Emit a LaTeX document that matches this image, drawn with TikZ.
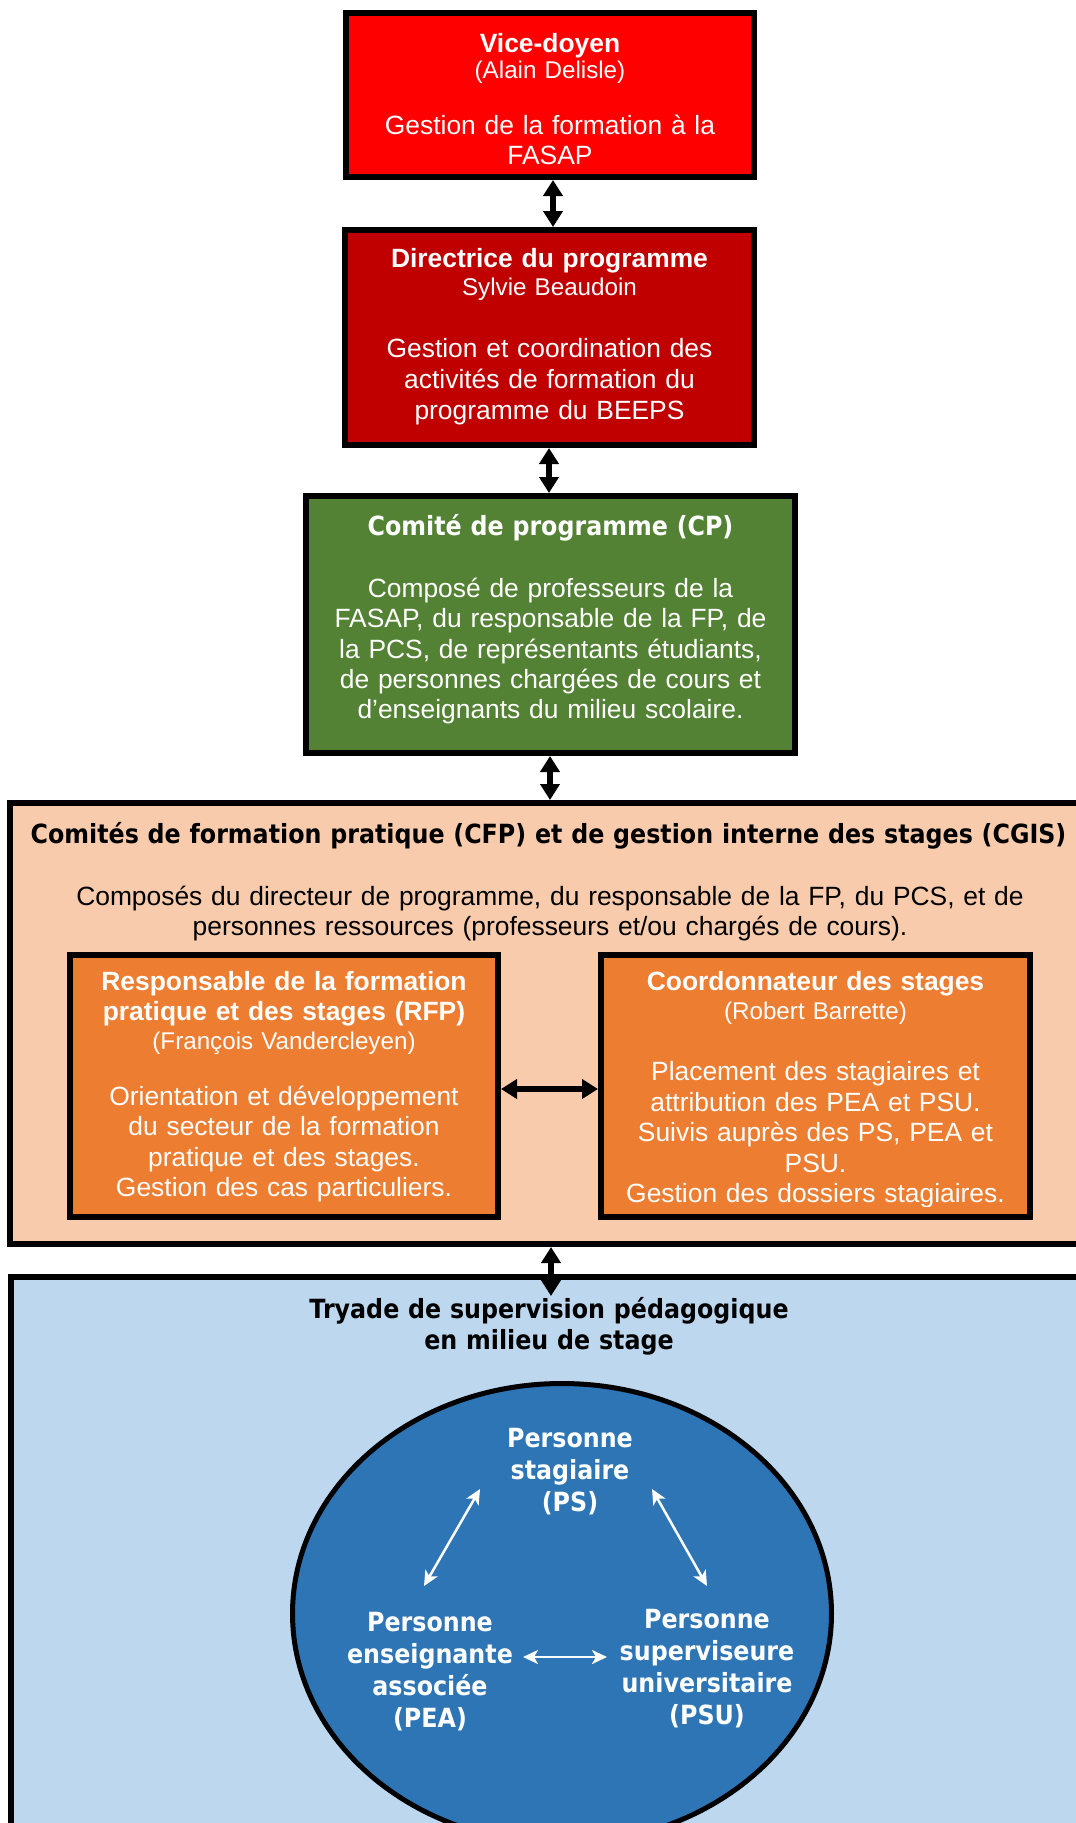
\documentclass[tikz,border=0pt]{standalone}
\usepackage{fontspec}
\setmainfont{Liberation Sans}
\newfontfamily\tah{DejaVu Sans}[FakeStretch=0.9]
\usetikzlibrary{arrows.meta,shapes.geometric}
\definecolor{vdred}{HTML}{FF0000}
\definecolor{dirred}{HTML}{C00000}
\definecolor{cpgreen}{HTML}{548235}
\definecolor{peach}{HTML}{F8CBAD}
\definecolor{orng}{HTML}{ED7D31}
\definecolor{ltblue}{HTML}{BDD7EE}
\definecolor{ellblue}{HTML}{2E75B6}
\tikzset{
  box/.style={draw=black, line width=6pt, inner sep=0pt, outer sep=0pt},
  txt/.style={anchor=base, align=center, text width=1040pt, inner sep=0pt, outer sep=0pt},
  bodytxt/.style={txt, font=\fontsize{26.4}{#1}\selectfont},
  bodytxt/.default=29.5,
  nmtxt/.style={txt, font=\fontsize{24.2}{28}\selectfont},
  ttltxt/.style={txt, font=\bfseries\fontsize{26.4}{#1}\selectfont},
  ttltxt/.default=30,
  tahtxt/.style={txt, font=\tah\bfseries\fontsize{26.4}{#1}\selectfont},
  tahtxt/.default=31,
  biarrow/.style={draw=black, line width=6pt, shorten <=3pt, shorten >=3pt, {Triangle[length=16pt,width=19pt]}-{Triangle[length=16pt,width=19pt]}},
  warrow/.style={draw=white, line width=2.5pt, {Stealth[length=15pt,width=14pt,inset=4pt]}-{Stealth[length=15pt,width=14pt,inset=4pt]}}
}
\begin{document}
\begin{tikzpicture}[x=1pt,y=-1pt]
\useasboundingbox (0,0) rectangle (1076,1823);
\clip (0,0) rectangle (1076,1823);
\fill[white] (0,0) rectangle (1076,1823);

% boxes
\node[box, fill=vdred, minimum width=408pt, minimum height=164pt] (vd) at (550,95) {};
\node[box, fill=dirred, minimum width=409pt, minimum height=215pt] (dir) at (549.5,337.5) {};
\node[box, fill=cpgreen, minimum width=489pt, minimum height=257pt] (cp) at (550.5,624.5) {};
\node[box, fill=peach, minimum width=1100pt, minimum height=441pt] (cfp) at (560,1023.5) {};
\node[box, fill=orng, minimum width=428pt, minimum height=262pt] (rfp) at (284,1086) {};
\node[box, fill=orng, minimum width=429pt, minimum height=262pt] (coord) at (815.5,1086) {};
\node[box, fill=ltblue, minimum width=1099pt, minimum height=623pt] (try) at (560.5,1588.5) {};
\node[draw=black, line width=5pt, fill=ellblue, ellipse, inner sep=0pt, outer sep=0pt, minimum width=539pt, minimum height=460pt] (ell) at (562,1613.5) {};

% Vice-doyen
\node[ttltxt, text=white] (vdT) at (550,52) {Vice-doyen};
\node[nmtxt, text=white] (vdN) at (550,78) {(Alain Delisle)};
\node[bodytxt=30.5, text=white] (vdB) at (550,134) {Gestion de la formation à la\\FASAP};

% Directrice
\node[ttltxt, text=white] (dirT) at (549.5,267.5) {Directrice du programme};
\node[nmtxt, text=white] (dirN) at (549.5,295.5) {Sylvie Beaudoin};
\node[bodytxt=30.8, text=white] (dirB) at (549.5,357.5) {Gestion et coordination des\\activités de formation du\\programme du BEEPS};

% Comite de programme
\node[tahtxt, text=white] (cpT) at (550.5,535) {Comité de programme (CP)};
\node[bodytxt=30.3, text=white] (cpB) at (550.5,597.5) {Composé de professeurs de la\\FASAP, du responsable de la FP, de\\la PCS, de représentants étudiants,\\de personnes chargées de cours et\\d’enseignants du milieu scolaire.};

% CFP
\node[tahtxt, text=black] (cfpT) at (548.5,843) {Comités de formation pratique (CFP) et de gestion interne des stages (CGIS)};
\node[bodytxt=30, text=black] (cfpB) at (550,905.5) {Composés du directeur de programme, du responsable de la FP, du PCS, et de\\personnes ressources (professeurs et/ou chargés de cours).};

% RFP
\node[ttltxt=30, text=white] (rfpT) at (284,990) {Responsable de la formation\\pratique et des stages (RFP)};
\node[nmtxt, text=white] (rfpN) at (284,1049) {(François Vandercleyen)};
\node[bodytxt=30.5, text=white] (rfpB) at (284,1105) {Orientation et développement\\du secteur de la formation\\pratique et des stages.\\Gestion des cas particuliers.};

% Coordonnateur
\node[ttltxt, text=white] (coT) at (815.5,990) {Coordonnateur des stages};
\node[nmtxt, text=white] (coN) at (815.5,1019) {(Robert Barrette)};
\begin{scope}
\clip (601,1040) rectangle (1030,1206);
\node[bodytxt=30.5, text=white] (coB) at (815.5,1080.5) {Placement des stagiaires et\\attribution des PEA et PSU.\\Suivis auprès des PS, PEA et\\PSU.\\Gestion des dossiers stagiaires.};
\end{scope}

% Tryade
\node[tahtxt=31, text=black] (tryT) at (549,1318) {Tryade de supervision pédagogique\\en milieu de stage};
\node[tahtxt=32, text=white] (ps) at (570,1447) {Personne\\stagiaire\\(PS)};
\node[tahtxt=32, text=white] (pea) at (430,1631) {Personne\\enseignante\\associée\\(PEA)};
\node[tahtxt=32, text=white] (psu) at (707,1628.5) {Personne\\superviseure\\universitaire\\(PSU)};

% connectors
\coordinate (x1) at (553,0);
\coordinate (x2) at (549,0);
\coordinate (x3) at (550,0);
\coordinate (x4) at (551,1299);
\coordinate (y5) at (0,1089);
\draw[biarrow] (vd.south -| x1) -- (dir.north -| x1);
\draw[biarrow] (dir.south -| x2) -- (cp.north -| x2);
\draw[biarrow] (cp.south -| x3) -- (cfp.north -| x3);
\draw[biarrow] (cfp.south -| x4) -- (x4);
\draw[biarrow] (rfp.east |- y5) -- (coord.west |- y5);

\coordinate (psL) at (480,1489);
\coordinate (peaT) at (424,1586);
\coordinate (psR) at (652,1489);
\coordinate (psuT) at (707,1586);
\coordinate (peaR) at (523,1657);
\coordinate (psuL) at (607,1657);
\draw[warrow] (psL) -- (peaT);
\draw[warrow] (psR) -- (psuT);
\draw[warrow] (peaR) -- (psuL);
\end{tikzpicture}
\end{document}
